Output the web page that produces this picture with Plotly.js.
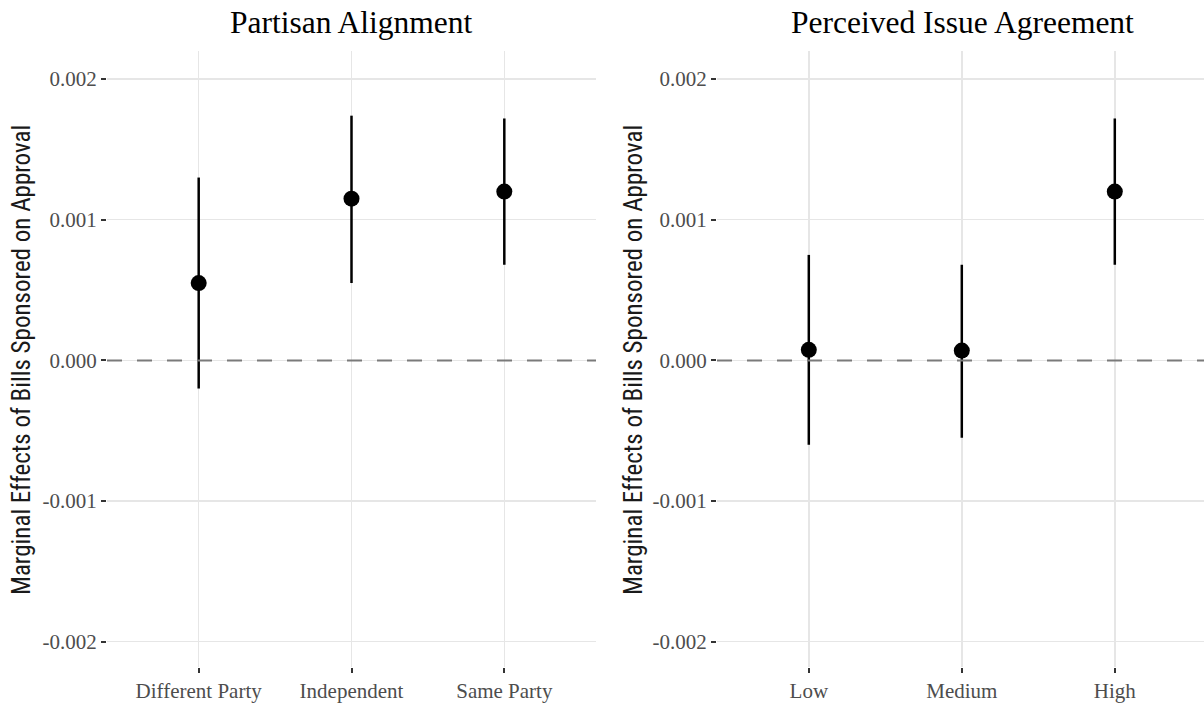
<!DOCTYPE html>
<html>
<head>
<meta charset="utf-8">
<script src="https://cdn.plot.ly/plotly-3.0.1.min.js"></script>
<style>html,body{margin:0;padding:0;background:#fff;}#chart{width:1204px;height:703px;}</style>
</head>
<body>
<div id="chart"></div>
<script>
// Panel 1: Partisan Alignment
const partisanCategories = ["Different Party", "Independent", "Same Party"];
const partisanEstimate = [0.00055, 0.00115, 0.00120];
const partisanUpper = [0.00130, 0.00174, 0.00172];
const partisanLower = [-0.00020, 0.00055, 0.00068];

// Panel 2: Perceived Issue Agreement
const issueCategories = ["Low", "Medium", "High"];
const issueEstimate = [0.000075, 0.00007, 0.00120];
const issueUpper = [0.00075, 0.00068, 0.00172];
const issueLower = [-0.00060, -0.00055, 0.00068];

const yTickVals = [-0.002, -0.001, 0, 0.001, 0.002];
const yTickText = ["-0.002", "-0.001", "0.000", "0.001", "0.002"];

const panelTitles = ["Partisan Alignment", "Perceived Issue Agreement"];
const yAxisTitle = "Marginal Effects of Bills Sponsored on Approval";

function makeTrace(cats, est, up, lo, xa, ya) {
  return {
    type: "scatter", mode: "markers",
    x: cats, y: est, xaxis: xa, yaxis: ya,
    marker: {color: "#000", size: 16},
    error_y: {
      type: "data", symmetric: false,
      array: up.map((u, i) => u - est[i]),
      arrayminus: lo.map((l, i) => est[i] - l),
      color: "#000", thickness: 2.5, width: 0
    },
    showlegend: false, hoverinfo: "skip"
  };
}

const tickFont = {family: "Liberation Serif, Times New Roman, serif", size: 21, color: "#4d4d4d"};
const grid = "#e6e6e6";
const yRange = [-0.00218, 0.0022];
const yDomain = [0.0512, 0.9275];

function yAxis(anchor) {
  return {
    domain: yDomain, range: yRange, anchor: anchor,
    tickvals: yTickVals, ticktext: yTickText,
    tickfont: tickFont, ticks: "outside", ticklen: 5, tickwidth: 2, tickcolor: "#333",
    showgrid: true, gridcolor: grid, gridwidth: 1.5,
    zeroline: false, showline: false, fixedrange: true
  };
}
function xAxis(anchor, domain, range, cats) {
  return {
    domain: domain, range: range, anchor: anchor,
    type: "category", categoryarray: cats, categoryorder: "array",
    tickfont: tickFont, ticks: "outside", ticklen: 5, tickwidth: 2, tickcolor: "#333",
    showgrid: true, gridcolor: grid, gridwidth: 1.5,
    zeroline: false, showline: false, fixedrange: true
  };
}

const data = [
  makeTrace(partisanCategories, partisanEstimate, partisanUpper, partisanLower, "x", "y"),
  makeTrace(issueCategories, issueEstimate, issueUpper, issueLower, "x2", "y2")
];

const titleFont = {family: "Liberation Serif, Times New Roman, serif", size: 31.5, color: "#000"};
const yTitleFont = {family: "Roboto Condensed, Liberation Sans Narrow, DejaVu Sans Condensed, Arial Narrow, sans-serif", size: 25, color: "#1a1a1a"};

const layout = {
  width: 1204, height: 703,
  margin: {l: 0, r: 0, t: 0, b: 0},
  paper_bgcolor: "#fff", plot_bgcolor: "#fff",
  xaxis: xAxis("y", [107/1204, 596/1204], [-0.6, 2.6], partisanCategories),
  yaxis: yAxis("x"),
  xaxis2: xAxis("y2", [717/1204, 1], [-0.6, 2.583], issueCategories),
  yaxis2: yAxis("x2"),
  shapes: [
    {type: "line", xref: "x domain", yref: "y", x0: 0, x1: 1, y0: 0, y1: 0,
     line: {color: "#7a7a7a", width: 2, dash: "longdash"}, layer: "above"},
    {type: "line", xref: "x2 domain", yref: "y2", x0: 0, x1: 1, y0: 0, y1: 0,
     line: {color: "#7a7a7a", width: 2, dash: "longdash"}, layer: "above"}
  ],
  annotations: [
    {text: panelTitles[0], xref: "paper", yref: "paper", x: 351.5/1204, y: 1 - 22/703,
     xanchor: "center", yanchor: "middle", showarrow: false, font: titleFont},
    {text: panelTitles[1], xref: "paper", yref: "paper", x: 962/1204, y: 1 - 22/703,
     xanchor: "center", yanchor: "middle", showarrow: false, font: titleFont},
    {text: yAxisTitle, xref: "paper", yref: "paper", x: 21/1204, y: 1 - 360/703,
     xanchor: "center", yanchor: "middle", textangle: -90, showarrow: false, font: yTitleFont},
    {text: yAxisTitle, xref: "paper", yref: "paper", x: 633/1204, y: 1 - 360/703,
     xanchor: "center", yanchor: "middle", textangle: -90, showarrow: false, font: yTitleFont}
  ]
};

Plotly.newPlot("chart", data, layout, {staticPlot: true, displayModeBar: false});
</script>
</body>
</html>
